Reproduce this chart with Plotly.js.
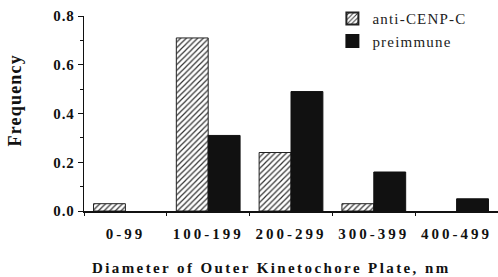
<!DOCTYPE html>
<html>
<head>
<meta charset="utf-8">
<script src="https://cdn.plot.ly/plotly-3.0.1.min.js"></script>
<style>
html,body{margin:0;padding:0;background:#fff;}
#chart{width:498px;height:277px;}
.xtick text{letter-spacing:3px;}
.ytick text{letter-spacing:0.8px;}
.annotation-text{letter-spacing:2.4px;}
.annotation[data-index="1"] .annotation-text{letter-spacing:1.2px;}
.legendtext{letter-spacing:1.2px;}
</style>
</head>
<body>
<div id="chart"></div>
<script>
var categories = ["0-99", "100-199", "200-299", "300-399", "400-499"];
var antiCenpC = [0.03, 0.71, 0.24, 0.03, 0];
var preimmune = [0, 0.31, 0.49, 0.16, 0.05];
var yTicks = [0, 0.2, 0.4, 0.6, 0.8];
var yTickText = ["0.0", "0.2", "0.4", "0.6", "0.8"];
var xTitle = "Diameter of Outer Kinetochore Plate, nm";
var yTitle = "Frequency";

var serif = "'Liberation Serif', 'Times New Roman', serif";

function outline(vals) { return vals.map(function (v) { return v > 0 ? 1 : 0; }); }

var traces = [
  {
    type: "bar",
    name: "anti-CENP-C",
    x: categories,
    y: antiCenpC,
    marker: {
      color: "#ffffff",
      line: {color: "#222", width: outline(antiCenpC)},
      pattern: {shape: "/", fgcolor: "#333", bgcolor: "#ffffff", size: 4, solidity: 0.3}
    }
  },
  {
    type: "bar",
    name: "preimmune",
    x: categories,
    y: preimmune,
    marker: {color: "#111", line: {color: "#111", width: outline(preimmune)}}
  }
];

var layout = {
  width: 498,
  height: 277,
  margin: {l: 84, r: 0, t: 16, b: 66},
  paper_bgcolor: "#fff",
  plot_bgcolor: "#fff",
  font: {family: serif, color: "#111", size: 14},
  barmode: "group",
  bargap: 0.23,
  bargroupgap: 0,
  showlegend: true,
  legend: {
    x: 0.6, y: 1.07, xanchor: "left", yanchor: "top",
    font: {family: serif, size: 15, color: "#222"},
    bgcolor: "rgba(0,0,0,0)",
    itemsizing: "constant"
  },
  xaxis: {
    type: "category",
    range: [-0.5, 4.5],
    showline: true, linecolor: "#111", linewidth: 1.5,
    ticks: "outside", tickson: "boundaries", ticklen: 3, tickcolor: "#111",
    ticklabelstandoff: 8,
    tickfont: {family: serif, size: 15, color: "#111", weight: "bold"},
    showgrid: false, zeroline: false
  },
  yaxis: {
    range: [0, 0.8],
    tickvals: yTicks, ticktext: yTickText,
    showline: true, linecolor: "#111", linewidth: 1.5,
    ticks: "outside", ticklen: 5, tickcolor: "#111",
    minor: {dtick: 0.1, ticks: "outside", ticklen: 3, tickcolor: "#111"},
    tickfont: {family: serif, size: 15, color: "#111", weight: "bold"},
    showgrid: false, zeroline: false
  },
  annotations: [
    {
      text: xTitle, xref: "paper", yref: "paper",
      x: 0.452, y: -0.293, xanchor: "center", yanchor: "middle",
      showarrow: false,
      font: {family: serif, size: 15, weight: "bold", color: "#111"}
    },
    {
      text: yTitle, xref: "paper", yref: "paper",
      x: -0.167, y: 0.569, xanchor: "center", yanchor: "middle",
      textangle: -90, showarrow: false,
      font: {family: serif, size: 18, weight: "bold", color: "#111"}
    }
  ]
};

Plotly.newPlot("chart", traces, layout, {displayModeBar: false, staticPlot: true});
</script>
</body>
</html>
